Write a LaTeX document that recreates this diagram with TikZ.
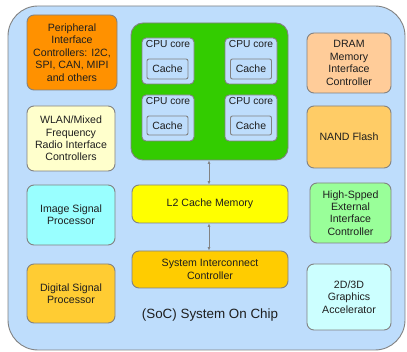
\documentclass[tikz,border=0pt]{standalone}
\usepackage{fontspec}
\setmainfont{Liberation Sans}
\usetikzlibrary{arrows.meta}
\definecolor{outerfill}{RGB}{190,221,252}
\definecolor{bordergray}{RGB}{130,130,130}
\definecolor{txt}{RGB}{30,30,30}
\definecolor{cperiph}{RGB}{255,145,0}
\definecolor{cwlan}{RGB}{255,255,204}
\definecolor{cisp}{RGB}{153,255,255}
\definecolor{cdsp}{RGB}{255,204,51}
\definecolor{cgreen}{RGB}{51,204,0}
\definecolor{ccore}{RGB}{190,221,252}
\definecolor{cl2}{RGB}{255,255,0}
\definecolor{csys}{RGB}{255,204,0}
\definecolor{cdram}{RGB}{255,204,153}
\definecolor{cnand}{RGB}{255,204,102}
\definecolor{chigh}{RGB}{153,255,153}
\definecolor{cgfx}{RGB}{204,255,255}
\tikzset{
  box/.style={draw=bordergray, line width=0.9pt, rounded corners=7pt, align=center,
    text=txt, font=\fontsize{10.6}{12.4}\selectfont, inner sep=0pt},
  corebox/.style={draw=bordergray, line width=0.9pt, rounded corners=4pt, fill=ccore, inner sep=0pt},
  cachebox/.style={draw=bordergray, line width=0.9pt, rounded corners=2pt, fill=ccore, inner sep=0pt,
    text=txt, font=\fontsize{10.5}{12}\selectfont},
  corelabel/.style={text=txt, font=\fontsize{10.2}{12}\selectfont, inner sep=0pt, anchor=north},
  link/.style={draw=bordergray, line width=0.9pt, {Latex[length=3.5pt,width=3pt]}-{Latex[length=3.5pt,width=3pt]}}
}
\begin{document}
\begin{tikzpicture}[x=1pt,y=-1pt]
\useasboundingbox (0,0) rectangle (407,352);
\draw[draw=bordergray, line width=0.9pt, fill=outerfill, rounded corners=30pt] (8,6) rectangle (405,350);

\node[box, fill=cperiph, minimum width=90pt, minimum height=75pt] (periph) at (72,52.5)
  {Peripheral\\Interface\\Controllers: I2C,\\SPI, CAN, MIPI\\and others};
\node[box, fill=cwlan, minimum width=88pt, minimum height=65pt] (wlan) at (71,138.5)
  {WLAN/Mixed\\Frequency\\Radio Interface\\Controllers};
\node[box, fill=cisp, minimum width=88pt, minimum height=60pt] (isp) at (71,215)
  {Image Signal\\Processor};
\node[box, fill=cdsp, minimum width=88pt, minimum height=59pt] (dsp) at (71,293.5)
  {Digital Signal\\Processor};

\node[box, fill=cgreen, rounded corners=12pt, minimum width=157pt, minimum height=137pt] (cpu) at (209.5,91.5) {};
\node[corebox, minimum width=52pt, minimum height=46pt] (c1) at (168,61) {};
\node[corebox, minimum width=52pt, minimum height=46pt] (c2) at (251,61) {};
\node[corebox, minimum width=52pt, minimum height=46pt] (c3) at (168,118) {};
\node[corebox, minimum width=52pt, minimum height=46pt] (c4) at (251,118) {};
\node[corelabel] (l1) at ([yshift=-2.5pt]c1.north) {CPU core};
\node[corelabel] (l2) at ([yshift=-2.5pt]c2.north) {CPU core};
\node[corelabel] (l3) at ([yshift=-2.5pt]c3.north) {CPU core};
\node[corelabel] (l4) at ([yshift=-2.5pt]c4.north) {CPU core};
\node[cachebox, minimum width=41pt, minimum height=20pt] (k1) at (167.5,69) {Cache};
\node[cachebox, minimum width=41pt, minimum height=20pt] (k2) at (251,69) {Cache};
\node[cachebox, minimum width=41pt, minimum height=19pt] (k3) at (167.5,125.5) {Cache};
\node[cachebox, minimum width=41pt, minimum height=19pt] (k4) at (251,125.5) {Cache};

\node[box, fill=cl2, minimum width=156pt, minimum height=38pt] (l2c) at (210,204) {L2 Cache Memory};
\node[box, fill=csys, minimum width=156pt, minimum height=37pt] (sys) at (210,269.5)
  {System Interconnect\\Controller};

\draw[link] (cpu.south -| 209,0) -- (l2c.north -| 209,0);
\draw[link] (l2c.south -| 209,0) -- (sys.north -| 209,0);

\node[text=txt, font=\fontsize{13.4}{16}\selectfont, inner sep=0pt] (soc) at (210,315) {(SoC) System On Chip};

\node[box, fill=cdram, minimum width=84pt, minimum height=60pt] (dram) at (349,63)
  {DRAM\\Memory\\Interface\\Controller};
\node[box, fill=cnand, minimum width=84pt, minimum height=62pt] (nand) at (349,137) {NAND Flash};
\node[box, fill=chigh, minimum width=81pt, minimum height=60pt] (high) at (350.5,213)
  {High-Spped\\External\\Interface\\Controller};
\node[box, fill=cgfx, minimum width=84pt, minimum height=66pt] (gfx) at (349,297)
  {2D/3D\\Graphics\\Accelerator};
\end{tikzpicture}
\end{document}
